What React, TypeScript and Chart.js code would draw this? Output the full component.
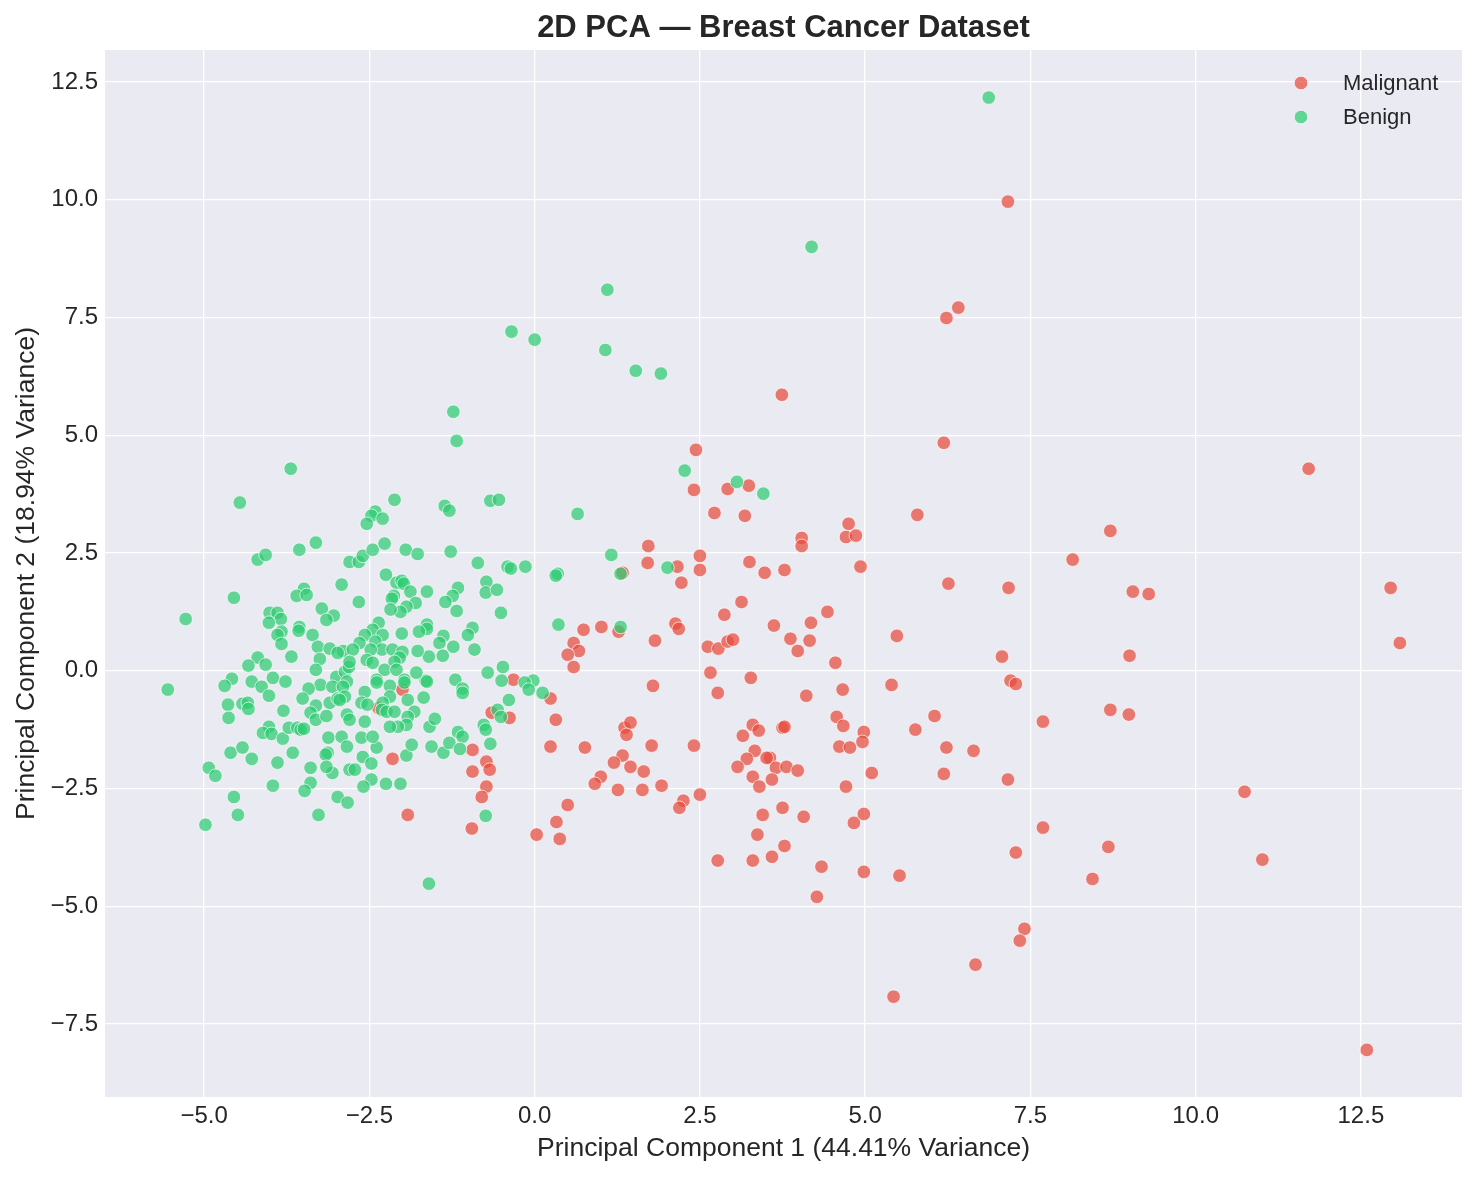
import React, { useEffect, useRef } from "react";
import { Chart, registerables } from "chart.js";

Chart.register(...registerables);

const malignantPC1 = [
  7.16, 6.23, 6.41, 3.74, 6.19, 2.44, 2.41, 2.92, 3.24, 2.72, 3.18, 11.71, 5.79, 4.75, 4.71, 4.86, 4.04, 4.04,
  8.71, 8.14, 1.72, 1.71, 2.5, 2.5, 3.25, 3.48, 3.78, 4.93, 1.33, 2.16, 2.22, 6.26, 7.17, 9.05, 9.29, 12.95,
  3.13, 2.87, 4.43, 3.62, 4.18, 3.87, 4.16, 3.98, 5.48, 13.09, 0.74, 1.01, 1.27, 2.13, 2.18, 1.82, 0.59, 0.67,
  0.5, 0.59, 2.62, 2.78, 2.92, 3.0, 4.55, 7.07, 9.0, 2.66, 3.27, 1.79, 2.77, 0.24, 7.2, 7.28, 4.11, 4.66, 5.4,
  6.05, 5.76, 4.57, 4.67, 4.98, 4.96, 4.61, 4.77, 3.75, 3.78, 7.69, 8.71, 8.99, 6.23, 6.64, 3.56, 3.65, 3.81,
  3.98, 3.59, 4.71, 5.1, 6.19, 7.16, 3.75, 4.07, 4.83, 4.98, 7.69, 3.78, 3.59, 4.34, 4.98, 5.52, 4.27, 7.28,
  8.68, 8.44, 10.74, 11.01, 7.41, 7.34, 6.67, 5.43, 12.59, 3.3, 3.39, 3.15, 3.33, 3.51, 3.21, 3.07, 3.3, 3.4,
  1.36, 1.45, 1.39, 1.77, 2.41, 1.33, 1.2, 1.45, 1.65, 1.0, 0.91, 1.26, 1.63, 1.92, 2.25, 2.19, 2.5, 0.32,
  0.24, 0.76, 0.5, 0.33, 0.03, 0.38, 2.77, 3.3, 3.45, 3.37, -2.0, -2.36, -2.15, -1.92, -0.94, -0.73, -0.94,
  -0.68, -0.73, -0.8, -0.95, -0.65, -0.38, -0.32,
];
const malignantPC2 = [
  9.96, 7.49, 7.71, 5.86, 4.84, 4.69, 3.84, 3.86, 3.93, 3.35, 3.29, 4.29, 3.31, 3.12, 2.84, 2.87, 2.82, 2.65,
  2.97, 2.36, 2.65, 2.29, 2.44, 2.14, 2.31, 2.08, 2.14, 2.21, 2.08, 2.21, 1.87, 1.85, 1.76, 1.68, 1.63, 1.76,
  1.46, 1.19, 1.25, 0.96, 1.02, 0.68, 0.64, 0.42, 0.74, 0.59, 0.87, 0.93, 0.83, 1.0, 0.89, 0.64, 0.59, 0.42,
  0.34, 0.08, 0.51, 0.47, 0.62, 0.66, 0.17, 0.3, 0.32, -0.04, -0.15, -0.32, -0.47, -0.59, -0.21, -0.28, -0.53,
  -0.4, -0.3, -0.96, -1.25, -0.98, -1.17, -1.3, -1.51, -1.61, -1.63, -1.21, -1.19, -1.08, -0.83, -0.93,
  -1.63, -1.7, -1.85, -2.06, -2.04, -2.12, -2.31, -2.46, -2.17, -2.19, -2.31, -2.91, -3.1, -3.23, -3.04,
  -3.33, -3.72, -3.95, -4.16, -4.27, -4.35, -4.8, -3.86, -3.74, -4.42, -2.57, -4.01, -5.48, -5.73, -6.24,
  -6.92, -8.05, -1.15, -1.27, -1.38, -1.7, -1.85, -1.87, -2.04, -2.25, -2.46, -1.21, -1.1, -1.36, -1.59,
  -1.59, -1.8, -1.95, -2.04, -2.14, -2.25, -2.4, -2.53, -2.53, -2.44, -2.76, -2.91, -2.63, -1.04, -1.61,
  -1.63, -2.85, -3.21, -3.48, -3.57, -4.03, -4.03, -3.06, -3.48, -0.4, -0.79, -1.87, -3.06, -1.68, -1.93,
  -2.14, -2.1, -2.46, -2.68, -3.35, -0.89, -1.0, -0.19,
];

const benignPC1 = [
  6.87, 4.19, 1.1, -0.35, 0.0, 1.07, 1.53, 1.91, -1.23, -1.18, 2.27, -3.69, 3.06, 3.46, -4.46, -1.36, -1.29,
  -0.67, -0.54, -2.12, 0.65, -2.41, -2.47, -2.3, -2.54, -4.19, -4.07, -3.56, -3.31, -2.8, -2.66, -2.6, -2.45,
  -2.27, -1.95, -1.77, -1.27, -0.86, -0.41, -0.36, -0.14, 0.35, 0.32, 1.16, 1.3, 2.01, 0.36, 1.3, -0.02, 0.12,
  -4.55, -5.28, -3.49, -3.6, -3.45, -2.92, -3.22, -3.04, -3.15, -4.01, -3.89, -3.84, -4.02, -3.83, -3.89,
  -3.83, -3.56, -3.57, -3.36, -3.28, -3.1, -2.9, -2.98, -3.25, -3.31, -3.68, -4.19, -4.33, -4.07, -4.58,
  -4.69, -5.55, -4.28, -4.13, -3.96, -3.77, -3.0, -2.87, -2.81, -2.84, -3.24, -3.42, -3.06, -4.02, -4.64,
  -4.63, -4.42, -4.34, -4.33, -3.8, -3.51, -3.31, -3.39, -3.31, -3.15, -3.1, -2.98, -2.9, -2.84, -4.02,
  -4.11, -3.98, -3.81, -3.72, -3.59, -3.54, -3.49, -3.12, -2.92, -2.84, -3.13, -3.16, -3.06, -3.15, -4.6,
  -4.42, -4.28, -3.89, -3.66, -3.39, -4.93, -4.83, -3.96, -3.39, -3.48, -4.55, -4.49, -4.98, -3.27, -2.98,
  -2.83, -2.8, -2.25, -2.09, -2.01, -1.98, -1.88, -2.13, -2.16, -1.8, -1.94, -2.03, -2.18, -1.63, -2.66,
  -1.16, -1.24, -1.35, -1.18, -0.73, -0.74, -0.57, -0.51, -2.36, -2.45, -2.57, -2.3, -2.41, -2.31, -2.48,
  -2.65, -2.75, -2.01, -1.63, -1.63, -1.75, -1.38, -1.44, -1.23, -0.91, -1.6, -1.39, -1.77, -0.94, -1.01,
  -2.15, -2.0, -2.04, -2.12, -2.54, -2.45, -2.27, -2.09, -1.97, -2.39, -2.8, -2.19, -1.65, -1.79, -1.2, -1.09,
  -0.71, -0.48, -0.5, -0.15, -0.09, -2.87, -2.57, -2.95, -2.62, -2.53, -2.39, -2.19, -1.97, -1.63, -1.68,
  -1.92, -2.3, -2.31, -2.24, -2.12, -1.82, -1.92, -1.94, -2.07, -2.19, -2.8, -2.57, -2.62, -2.39, -2.45,
  -2.6, -2.72, -2.47, -2.47, -2.59, -2.25, -2.03, -1.94, -1.86, -1.56, -1.59, -1.51, -1.38, -1.29, -1.16,
  -1.09, -1.13, -1.09, -0.77, -0.74, -0.67, -0.56, -0.51, -0.39, -0.74, -1.6,
];
const benignPC2 = [
  12.17, 9.0, 8.09, 7.2, 7.03, 6.81, 6.37, 6.31, 5.5, 4.88, 4.25, 4.29, 4.01, 3.76, 3.57, 3.5, 3.4, 3.61,
  3.63, 3.63, 3.33, 3.38, 3.29, 3.23, 3.12, 2.36, 2.46, 2.57, 2.72, 2.31, 2.31, 2.44, 2.57, 2.7, 2.57, 2.48,
  2.53, 2.29, 2.21, 2.17, 2.21, 2.06, 2.02, 2.46, 2.06, 2.19, 0.98, 0.93, -0.21, -0.47, 1.55, 1.1, 1.74, 1.59,
  1.61, 1.83, 1.32, 1.17, 1.08, 1.23, 1.23, 1.1, 1.02, 0.83, 0.76, 0.57, 0.93, 0.85, 0.76, 0.51, 0.47, 0.42,
  0.38, 0.25, 0.02, 0.3, 0.28, 0.11, 0.13, -0.17, -0.32, -0.4, -0.23, -0.34, -0.15, -0.23, -0.13, -0.02,
  0.08, -0.23, -0.3, -0.38, -0.34, -0.53, -0.72, -1.0, -0.7, -0.68, -0.81, -0.85, -0.59, -0.74, -0.89,
  -1.04, -0.96, -0.68, -0.59, -0.34, -0.93, -1.19, -1.32, -1.34, -1.44, -1.21, -1.21, -1.25, -1.23, -1.42,
  -1.4, -1.61, -1.74, -1.78, -2.17, -2.04, -1.74, -1.63, -1.87, -1.95, -1.74, -2.06, -2.06, -2.23, -2.44,
  -2.38, -2.55, -2.68, -3.06, -3.27, -3.06, -2.68, -2.8, -2.1, 2.04, 1.87, 1.91, 1.85, 1.68, 1.59, 1.53,
  1.44, 1.36, 1.25, 1.3, 1.68, 1.46, 1.76, 1.59, 1.46, 1.27, 1.89, 1.66, 1.72, 1.23, 1.02, 0.87, 0.76, 0.76,
  0.62, 0.45, 0.45, 0.59, 0.45, 0.79, 0.98, 0.89, 0.83, 0.74, 0.59, 0.51, 0.45, 0.3, 0.32, 0.42, 0.91, 0.76,
  0.45, 0.4, 0.28, 0.19, 0.23, 0.17, 0.02, 0.02, -0.19, -0.19, 0.19, -0.32, -0.21, -0.04, -0.19, -0.38,
  -0.04, 0.08, -0.21, -0.25, -0.4, -0.55, -0.45, -0.62, -0.68, -0.72, -0.25, -0.55, -0.25, -0.23, -0.57,
  -0.62, -0.68, -0.83, -0.87, -0.87, -0.87, -0.98, -1.15, -1.19, -1.19, -1.04, -1.08, -1.42, -1.63, -1.4,
  -1.83, -2.1, -1.97, -2.31, -2.46, -2.4, -2.4, -1.8, -1.57, -1.61, -1.19, -1.02, -1.74, -1.53, -1.3, -1.4,
  -1.66, -0.47, -1.15, -1.25, -1.55, -0.83, -0.98, -0.62, -3.08, -4.52,
];

const xTicks = [-5, -2.5, 0, 2.5, 5, 7.5, 10, 12.5];
const yTicks = [-7.5, -5, -2.5, 0, 2.5, 5, 7.5, 10, 12.5];
const seriesNames = ["Malignant", "Benign"];
const chartTitle = "2D PCA \u2014 Breast Cancer Dataset";

const FONT = "'Liberation Sans', Arial, sans-serif";
const TEXT = "#262626";
const RED = "rgba(231, 76, 60, 0.72)";
const GREEN = "rgba(46, 204, 113, 0.72)";

const fmt = (v: number) => (v < 0 ? "\u2212" : "") + Math.abs(v).toFixed(1);

const toPoints = (xs: number[], ys: number[]) => xs.map((x, i) => ({ x, y: ys[i] }));

const bgPlugin = {
  id: "bgPlugin",
  beforeDraw(chart: any) {
    const { ctx, chartArea } = chart;
    ctx.save();
    ctx.fillStyle = "#ffffff";
    ctx.fillRect(0, 0, chart.width, chart.height);
    ctx.fillStyle = "#EAEAF2";
    ctx.fillRect(chartArea.left, chartArea.top, chartArea.right - chartArea.left, chartArea.bottom - chartArea.top);
    ctx.restore();
  },
  afterDraw(chart: any) {
    const { ctx, chartArea } = chart;
    ctx.save();
    ctx.fillStyle = TEXT;
    ctx.font = `bold 31px ${FONT}`;
    ctx.textAlign = "center";
    ctx.textBaseline = "middle";
    ctx.fillText(chartTitle, (chartArea.left + chartArea.right) / 2, 28);
    ctx.restore();
  },
};

const legendPlugin = {
  id: "insideLegend",
  afterDatasetsDraw(chart: any) {
    const { ctx, chartArea } = chart;
    const colors = [RED, GREEN];
    ctx.save();
    seriesNames.forEach((name, i) => {
      const cx = chartArea.right - 161;
      const cy = chartArea.top + 33 + i * 34;
      ctx.beginPath();
      ctx.arc(cx, cy, 6.8, 0, Math.PI * 2);
      ctx.fillStyle = colors[i];
      ctx.fill();
      ctx.lineWidth = 0.8;
      ctx.strokeStyle = "rgba(255,255,255,0.9)";
      ctx.stroke();
      ctx.fillStyle = TEXT;
      ctx.font = `22px ${FONT}`;
      ctx.textBaseline = "middle";
      ctx.textAlign = "left";
      ctx.fillText(name, cx + 42, cy + 1);
    });
    ctx.restore();
  },
};

export default function App() {
  const canvasRef = useRef<HTMLCanvasElement | null>(null);

  useEffect(() => {
    if (!canvasRef.current) return;
    const chart = new Chart(canvasRef.current, {
      type: "scatter",
      data: {
        datasets: [
          {
            label: seriesNames[0],
            data: toPoints(malignantPC1, malignantPC2),
            backgroundColor: RED,
            borderColor: "rgba(255,255,255,0.85)",
            borderWidth: 0.8,
            pointRadius: 6.8,
            order: 2,
          },
          {
            label: seriesNames[1],
            data: toPoints(benignPC1, benignPC2),
            backgroundColor: GREEN,
            borderColor: "rgba(255,255,255,0.85)",
            borderWidth: 0.8,
            pointRadius: 6.8,
            order: 1,
          },
        ],
      },
      options: {
        responsive: false,
        animation: false,
        layout: { padding: { left: 0, right: 14, top: 50, bottom: 0 } },
        plugins: {
          legend: { display: false },
          tooltip: { enabled: false },
          title: { display: false },
        },
        scales: {
          x: {
            type: "linear",
            min: -6.5,
            max: 14.03,
            afterBuildTicks: (scale: any) => {
              scale.ticks = xTicks.map((v) => ({ value: v }));
            },
            afterFit: (scale: any) => {
              scale.height = 81;
              scale.paddingLeft = 0;
              scale.paddingRight = 0;
            },
            ticks: {
              color: TEXT,
              font: { family: FONT, size: 24 },
              padding: 5,
              callback: (v: any) => fmt(Number(v)),
            },
            grid: { color: "#ffffff", lineWidth: 1.3, drawTicks: false },
            border: { display: false },
            title: {
              display: true,
              text: "Principal Component 1 (44.41% Variance)",
              color: TEXT,
              font: { family: FONT, size: 26.5 },
              padding: { top: 0, bottom: 13 },
            },
          },
          y: {
            type: "linear",
            min: -9.05,
            max: 13.18,
            afterBuildTicks: (scale: any) => {
              scale.ticks = yTicks.map((v) => ({ value: v }));
            },
            afterFit: (scale: any) => {
              scale.width = 105;
              scale.paddingTop = 0;
              scale.paddingBottom = 0;
            },
            ticks: {
              color: TEXT,
              font: { family: FONT, size: 24 },
              padding: 7,
              callback: (v: any) => fmt(Number(v)),
            },
            grid: { color: "#ffffff", lineWidth: 1.3, drawTicks: false },
            border: { display: false },
            title: {
              display: true,
              text: "Principal Component 2 (18.94% Variance)",
              color: TEXT,
              font: { family: FONT, size: 26.5 },
              padding: { top: 11, bottom: 0 },
            },
          },
        },
      },
      plugins: [bgPlugin, legendPlugin],
    });
    return () => chart.destroy();
  }, []);

  return (
    <div style={{ position: "absolute", left: 0, top: 0, width: 1476, height: 1178 }}>
      <canvas ref={canvasRef} width={1476} height={1178} style={{ display: "block" }} />
    </div>
  );
}
